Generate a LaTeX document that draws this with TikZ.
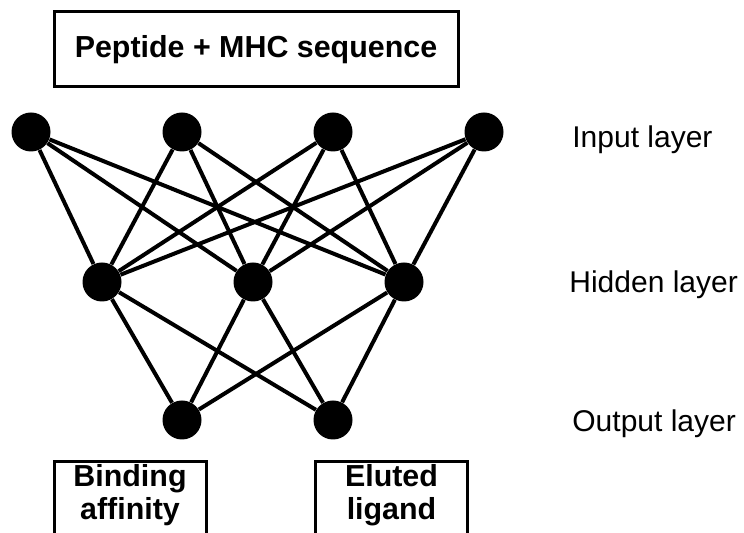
\documentclass[tikz,border=0pt]{standalone}
\usepackage{fontspec}
\setmainfont{Liberation Sans}
\usetikzlibrary{positioning}

\begin{document}
\begin{tikzpicture}[x=0.5pt, y=-0.5pt, node distance=75.5pt]
    \tikzstyle{unit} = [circle, fill=black, inner sep=0pt, minimum size=19.5pt]
    \tikzstyle{databox} = [rectangle, draw=black, line width=1.5pt, align=center, font=\bfseries\fontsize{15.2}{16.5}\selectfont]
    \tikzstyle{outbox} = [databox, anchor=north, minimum width=76pt, inner ysep=1.5pt, text depth=30pt]
    \tikzstyle{layername} = [anchor=base west, inner sep=0pt, font=\fontsize{15}{18}\selectfont]
    \tikzstyle{link} = [line width=2pt]

    \useasboundingbox (0,0) rectangle (744,533);
    \clip (0,0) rectangle (744,533);

    \node (seq) [databox, minimum width=202pt, minimum height=37.5pt] at (256,49.5) {Peptide + MHC sequence};

    \node (in1) [unit] at (31,132) {};
    \node (in2) [unit, right of=in1] {};
    \node (in3) [unit, right of=in2] {};
    \node (in4) [unit, right of=in3] {};
    \node (hid1) [unit] at (102,282) {};
    \node (hid2) [unit, right of=hid1] {};
    \node (hid3) [unit, right of=hid2] {};
    \node (out1) [unit] at (182,420) {};
    \node (out2) [unit, right of=out1] {};

    \node (binding) [outbox] at (130,460) {Binding\\affinity};
    \node (eluted) [outbox] at (391.5,460) {Eluted\\ligand};

    \node (inlabel) [layername] at (572,148) {Input layer};
    \node (hidlabel) [layername] at (569,293) {Hidden layer};
    \node (outlabel) [layername] at (572,432) {Output layer};

    \foreach \i in {1,...,4}
        \foreach \h in {1,2,3}
            \draw [link] (in\i) -- (hid\h);
    \foreach \h in {1,2,3}
        \foreach \o in {1,2}
            \draw [link] (hid\h) -- (out\o);
\end{tikzpicture}
\end{document}
